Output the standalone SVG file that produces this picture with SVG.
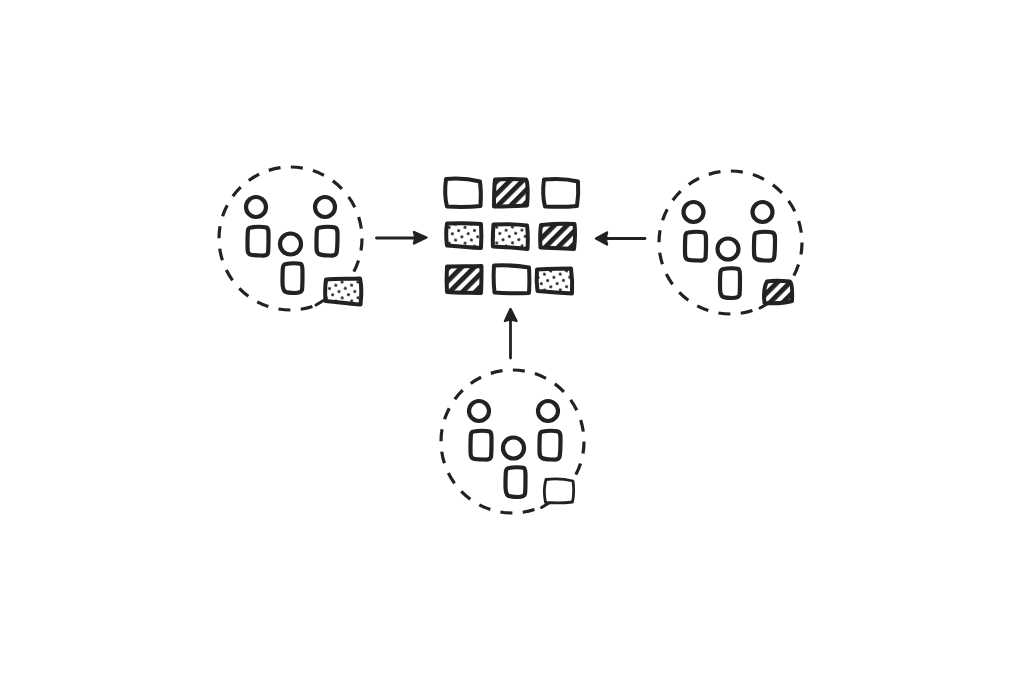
<svg xmlns="http://www.w3.org/2000/svg" width="1021" height="681" viewBox="0 0 1021 681">
<style>
.i{fill:none;stroke:#222;stroke-width:4.200;stroke-linejoin:round;stroke-linecap:round}
.t{stroke:#222;stroke-width:4;stroke-linejoin:round;stroke-linecap:round;fill:#fff}
.d{fill:url(#dots)}
.h{fill:url(#hatch)}
.ring{fill:none;stroke:#222;stroke-width:3.200;stroke-dasharray:12 10.450;stroke-linecap:butt}
.c{fill:none;stroke:#222;stroke-width:2.800;stroke-linecap:round}
.a{fill:#222;stroke:#222;stroke-width:2.400;stroke-linejoin:round}
.halo{fill:#fff;stroke:#fff;stroke-width:9;stroke-linejoin:round}
</style>
<defs>
<pattern id="dots" width="10" height="10" patternUnits="userSpaceOnUse" patternTransform="rotate(18)">
<rect width="10" height="10" fill="#fff"/>
<circle cx="2.500" cy="2.500" r="1.500" fill="#222"/>
<circle cx="7.500" cy="7.500" r="1.500" fill="#222"/>
</pattern>
<pattern id="hatch" width="9" height="9" patternUnits="userSpaceOnUse" patternTransform="rotate(45)">
<rect width="9" height="9" fill="#fff"/>
<rect width="4.800" height="9" fill="#222"/>
</pattern>
<g id="trio">
<circle class="i" cx="0" cy="0" r="10"/>
<path class="i" d="M-5 20.500C-1 19.500 7 19.500 10.500 20.500C12.500 21.500 12.500 24 12.500 28C12.500 36 12.500 42 12 46C11 48.500 9 49 5 48.500C1 48.500-3 48.500-6 47.500C-8.500 46-8.500 44-8.500 38C-8.500 32-8.500 27-8 23C-7.500 21-6.500 20.500-5 20.500Z"/>
<circle class="i" cx="69" cy="0" r="10"/>
<path class="i" d="M64 20.500C68 19.500 76 19.500 79 20.500C81.500 21.500 81.500 24 81.500 28C81.500 36 81.500 42 80.500 46C79.500 48.500 77 49 73 48.500C69 48.500 66 48.500 63 47C60.500 46 60.500 43 60.500 38C60.500 32 60.500 26 61 23C61.500 21 62.500 20.500 64 20.500Z"/>
<circle class="i" cx="34.500" cy="37" r="10.500"/>
<path class="i" d="M30 57C34 56 42 56 45 57C46.500 58 46.500 61 46.500 65C46.500 73 46.500 80 46 83C45 85.500 43 86 39 86C35 86 31 86 29 84.500C27 83 26.500 80 26.500 75C26.500 69 26.500 63 27 60C27.500 58 28.500 57 30 57Z"/>
</g>
</defs>

<g id="connectors">
<path class="c" d="M376.500 238L414 238"/>
<path class="a" d="M414 232L426.500 237.500L414 243.500C415.500 239 415.500 236 414 232Z"/>
<path class="c" d="M645 238.500L607 238.500"/>
<path class="a" d="M607 232.500L596 238.500L607 244.500C605.500 240 605.500 237 607 232.500Z"/>
<path class="c" d="M510.500 358L510.500 321"/>
<path class="a" d="M505 321L510.500 309L516.500 321C513 319.500 508.500 319.500 505 321Z"/>
</g>

<g id="group-left">
<circle class="ring" cx="290.500" cy="238.500" r="71.500"/>
<use href="#trio" x="256" y="207"/>
<path class="halo" d="M326 279.500L360 278.500L360.500 304.500L325.500 301Z"/>
<path class="c" style="stroke-width:3" d="M316 305L326 299"/>
<path class="t d" d="M326 279.500C337 278.500 350 279 360 278.500C361.500 285 361.500 296 360.500 304.500C350 304 336 302 325.500 301C325 294 325 286 326 279.500Z"/>
</g>

<g id="group-right">
<circle class="ring" cx="730.500" cy="242.500" r="71.500"/>
<use href="#trio" x="693.500" y="212"/>
<path class="halo" d="M767 281.500L790 281.500L792 301L764.500 303Z"/>
<path class="c" style="stroke-width:3" d="M760 308L768 303.500"/>
<path class="t h" d="M767 281.500C773 280.500 785 281 790 281.500C792 283 792.500 290 792 301C785 303 772 303.500 764.500 303C763.500 295 764 287 767 281.500Z"/>
</g>

<g id="group-bottom">
<circle class="ring" cx="512.500" cy="441.500" r="71.500"/>
<use href="#trio" x="479" y="411"/>
<path class="halo" d="M546 479.500L573 481L572.500 502L545.500 502.500Z"/>
<path class="c" style="stroke-width:3" d="M541.500 507.500L549 503"/>
<path class="i" style="fill:#fff;stroke-width:2.800" d="M546 479.500C553 478.500 565 479 573 481C574 488 574 495 572.500 502C565 503 553 503 545.500 502.500C544 495 544 486 546 479.500Z"/>
</g>

<g id="wall">
<g id="tile-1"><path class="t" d="M446 179C457 178 470 179 480 181.500C481 189 481 199 480.500 206C470 207 456 207 447 206.500C445 199 445 187 446 179Z"/></g>
<g id="tile-2"><path class="t h" d="M495 179.500C505 179 518 179 526 179.500C528 182 528 196 527 205.500C517 206 505 206.500 494 206.500C494 197 494 187 495 179.500Z"/></g>
<g id="tile-3"><path class="t" d="M544 179.500C555 178.500 568 179 578 181.500C578.500 189 578 199 577 206C567 207 555 207 545 206.500C543 199 543 187 544 179.500Z"/></g>
<g id="tile-4"><path class="t d" d="M447 223.500C458 223 470 223 481 224C481.500 232 481.500 240 481 248C470 247.500 458 246.500 447 245.500C446 238 446 230 447 223.500Z"/></g>
<g id="tile-5"><path class="t d" d="M493.500 224.500C505 224 517 224 527 225.500C528 233 528 241 527.500 249C517 248 505 247 493 246.500C492.500 239 493 231 493.500 224.500Z"/></g>
<g id="tile-6"><path class="t h" d="M541 225C552 224 564 223.500 574.500 224C575.500 232 575 241 574 249C563 248 552 248 540.500 247.500C540 240 540 232 541 225Z"/></g>
<g id="tile-7"><path class="t h" d="M447 266.500C458 266 470 266.500 481.500 266C481.500 275 481.500 284 481 293C470 292.500 458 293 447 292C446.500 284 446.500 275 447 266.500Z"/></g>
<g id="tile-8"><path class="t" d="M494 265.500C505 265 518 265.500 529 267.500C529.500 276 529.500 285 529 293C518 293.500 505 293.500 494.500 292.500C493.500 284 493.500 274 494 265.500Z"/></g>
<g id="tile-9"><path class="t d" d="M537 269.500C548 269 560 268.500 571 268.500C572 276 572.500 285 572 293.500C560 293 548 292 537.500 291C536.500 284 536.500 276 537 269.500Z"/></g>
</g>
</svg>
